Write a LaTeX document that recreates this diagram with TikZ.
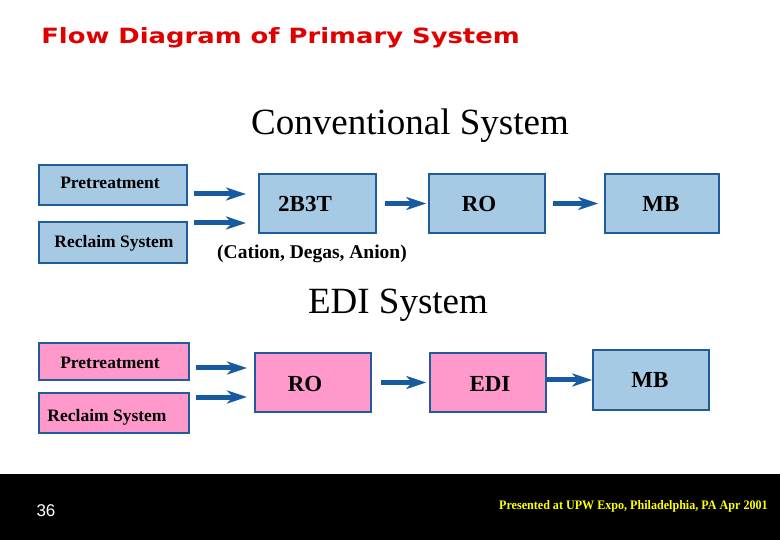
\documentclass[tikz,border=0pt]{standalone}
\usepackage{fontspec}
\setmainfont{Liberation Serif}
\newfontfamily\titlefont{DejaVu Sans}
\newfontfamily\numfont{Liberation Sans}
\usetikzlibrary{arrows.meta}
\definecolor{boxblue}{RGB}{166,202,228}
\definecolor{boxpink}{RGB}{255,153,204}
\definecolor{edge}{RGB}{31,92,153}
\definecolor{arrowblue}{RGB}{24,90,160}
\definecolor{titlered}{RGB}{225,0,0}
\definecolor{footyellow}{RGB}{255,255,0}
\tikzset{
  bluebox/.style={draw=edge,line width=1.5pt,fill=boxblue,inner sep=0pt},
  pinkbox/.style={draw=edge,line width=1.5pt,fill=boxpink,inner sep=0pt},
  flowarrow/.style={draw=arrowblue,line width=5pt,-{Stealth[length=20pt,width=13pt,inset=6pt]}},
  smalltxt/.style={font=\fontsize{17.5}{20}\selectfont\bfseries},
  bigtxt/.style={font=\fontsize{23}{26}\selectfont\bfseries},
  heading/.style={font=\fontsize{37}{42}\selectfont},
}
\begin{document}
\begin{tikzpicture}[x=1pt,y=-1pt]
\useasboundingbox (0,0) rectangle (780,540);
\fill[white] (0,0) rectangle (780,540);
% title
\node[anchor=west,text=titlered,font=\titlefont\fontsize{21}{24}\selectfont\bfseries,xscale=1.23] (title) at (37,38) {Flow Diagram of Primary System};
% Conventional
\node[heading] (conv) at (410,126) {Conventional System};
\path[bluebox] (39,165) rectangle (187,205);
\node[smalltxt] (cpretxt) at (110,183) {Pretreatment};
\path[bluebox] (39,222) rectangle (187,263);
\node[smalltxt] (crectxt) at (114,243) {Reclaim System};
\node[bluebox,minimum width=117pt,minimum height=59pt] (b2b3t) at (317.5,203.5) {};
\node[bigtxt] (t2b3t) at (305,204) {2B3T};
\node[bluebox,minimum width=116pt,minimum height=59pt] (cro) at (487,203.5) {};
\node[bigtxt] (tcro) at (479,204) {RO};
\node[bluebox,minimum width=114pt,minimum height=59pt] (cmb) at (662,203.5) {};
\node[bigtxt] (tcmb) at (661,204) {MB};
\node[font=\fontsize{19.5}{22}\selectfont\bfseries] (cda) at (312,254) {(Cation, Degas, Anion)};
\coordinate (ca1s) at (194,194); \coordinate (ca1e) at (246,194);
\coordinate (ca2s) at (194,223); \coordinate (ca2e) at (246,223);
\draw[flowarrow] (ca1s) -- (ca1e);
\draw[flowarrow] (ca2s) -- (ca2e);
\draw[flowarrow] (b2b3t.east) ++(8,0) coordinate (x1) (x1) -- ([xshift=-2pt]cro.west);
\draw[flowarrow] (cro.east) ++(7,0) coordinate (x2) (x2) -- ([xshift=-6pt]cmb.west);
% EDI
\node[heading] (edih) at (398,305) {EDI System};
\path[pinkbox] (39,343) rectangle (189,380);
\node[smalltxt] (epretxt) at (110,363) {Pretreatment};
\path[pinkbox] (39,393) rectangle (189,433);
\node[smalltxt] (erectxt) at (107,417) {Reclaim System};
\node[pinkbox,minimum width=116pt,minimum height=59pt] (ero) at (313,382.5) {};
\node[bigtxt] (tero) at (305,384) {RO};
\node[pinkbox,minimum width=116pt,minimum height=59pt] (eedi) at (488,382.5) {};
\node[bigtxt] (teedi) at (490,384) {EDI};
\node[bluebox,minimum width=116pt,minimum height=60pt] (emb) at (651,380) {};
\node[bigtxt] (temb) at (650,380) {MB};
\coordinate (ea1s) at (196,368); \coordinate (ea1e) at (247,368);
\coordinate (ea2s) at (196,397); \coordinate (ea2e) at (247,397);
\draw[flowarrow] (ea1s) -- (ea1e);
\draw[flowarrow] (ea2s) -- (ea2e);
\draw[flowarrow] (ero.east) ++(9,0) coordinate (x3) (x3) -- ([xshift=-3pt]eedi.west);
\draw[flowarrow] ([yshift=2.5pt]eedi.east) -- (emb.west);
% footer
\fill[black] (0,474) rectangle (780,540);
\node[anchor=west,text=white,font=\numfont\fontsize{17}{20}\selectfont] (num) at (33,511) {36};
\node[anchor=east,text=footyellow,font=\fontsize{13}{15}\selectfont\bfseries,xscale=0.93] (foot) at (771,506) {Presented at UPW Expo, Philadelphia, PA Apr 2001};
\end{tikzpicture}
\end{document}
